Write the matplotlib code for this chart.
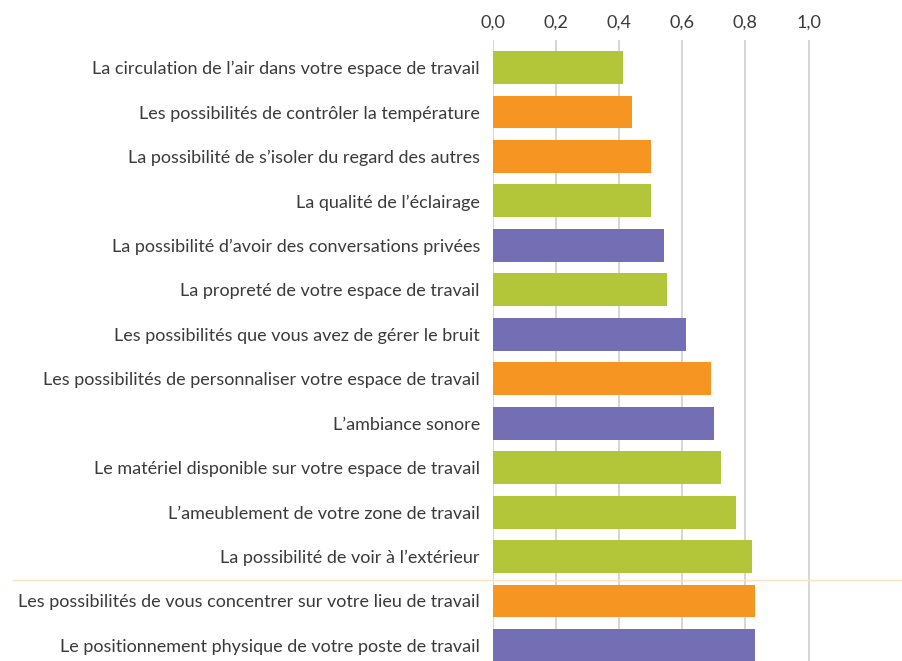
import matplotlib
matplotlib.use("Agg")
import matplotlib.pyplot as plt
from matplotlib.lines import Line2D
from matplotlib.ticker import FuncFormatter

labels = [
    "La circulation de l\u2019air dans votre espace de travail",
    "Les possibilités de contrôler la température",
    "La possibilité de s\u2019isoler du regard des autres",
    "La qualité de l\u2019éclairage",
    "La possibilité d\u2019avoir des conversations privées",
    "La propreté de votre espace de travail",
    "Les possibilités que vous avez de gérer le bruit",
    "Les possibilités de personnaliser votre espace de travail",
    "L\u2019ambiance sonore",
    "Le matériel disponible sur votre espace de travail",
    "L\u2019ameublement de votre zone de travail",
    "La possibilité de voir à l\u2019extérieur",
    "Les possibilités de vous concentrer sur votre lieu de travail",
    "Le positionnement physique de votre poste de travail",
]
values = [0.413, 0.441, 0.502, 0.502, 0.543, 0.552, 0.612, 0.691,
          0.700, 0.723, 0.771, 0.821, 0.831, 0.831]
groups = ["g", "o", "o", "g", "p", "g", "p", "o", "p", "g", "g", "g", "o", "p"]
ticks = [0.0, 0.2, 0.4, 0.6, 0.8, 1.0]

palette = {"g": "#b3c539", "o": "#f79523", "p": "#746fb4"}
txt = "#3a3a3a"

plt.rcParams['font.family'] = ['Lato', 'DejaVu Sans']

fig = plt.figure(figsize=(9.02, 6.61), dpi=100)
ax = fig.add_axes([492.5 / 902, 0, 1 - 492.5 / 902, 1 - 40 / 661])

y = list(range(len(labels)))
ax.barh(y, values, height=0.74, color=[palette[g] for g in groups], zorder=2)

ax.set_ylim(len(labels) - 1 + 0.35, -0.62)
ax.set_xlim(0, (902 - 492.5) / 316)
ax.set_yticks(y)
ax.set_yticklabels(labels, fontsize=13, color=txt)
ax.set_xticks(ticks)
ax.xaxis.set_major_formatter(FuncFormatter(lambda v, p: f"{v:.1f}".replace(".", ",")))
ax.xaxis.tick_top()
ax.tick_params(axis="x", length=0, pad=7, labelsize=13, labelcolor=txt)
ax.tick_params(axis="y", length=0, pad=9)
ax.grid(axis="x", color="#cbcbcb", linewidth=1.1, zorder=0)
for s in ax.spines.values():
    s.set_visible(False)

# separator between the last two items and the rest
sep_y = 1 - 579.5 / 661
fig.add_artist(Line2D([13 / 902, 1], [sep_y, sep_y], color="#fde3c0", linewidth=1))

fig.savefig("out.png", dpi=100)
